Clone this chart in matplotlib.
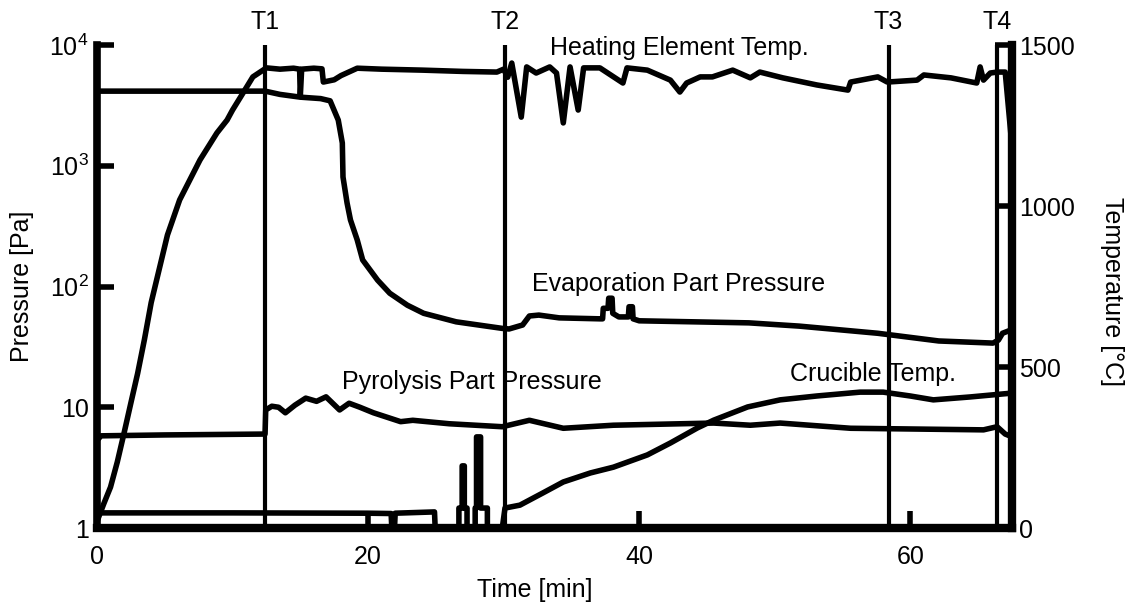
import matplotlib
matplotlib.use("Agg")
import matplotlib.pyplot as plt
import matplotlib.transforms as mtransforms
from matplotlib.ticker import NullLocator

plt.rcParams['font.family'] = ['Liberation Sans', 'DejaVu Sans']
plt.rcParams['mathtext.fontset'] = 'custom'
plt.rcParams['mathtext.rm'] = 'Liberation Sans'
plt.rcParams['font.size'] = 18

# Heating element temperature [degC] vs time [min]
heat_t = [0, 0.5, 1.0, 1.5, 2.0, 2.5, 3.0, 3.5, 4.0, 5.2, 6.1, 7.6, 8.85, 9.6, 10.0,
          10.6, 11.5, 12.5, 13.5, 14.5, 14.95, 15.0, 15.1, 16.0, 16.6, 16.7, 17.5,
          18.0, 19.2, 21.0, 24.0, 27.0, 29.5, 30.0, 30.3, 30.6, 31.3, 31.7, 32.4,
          33.4, 33.9, 34.4, 34.9, 35.5, 35.9, 37.1, 38.8, 39.1, 40.6, 42.3, 43.0,
          43.5, 44.5, 45.4, 46.9, 48.2, 48.9, 50.6, 53.1, 55.4, 55.6, 57.6, 58.3,
          60.5, 61.0, 63.0, 64.9, 65.15, 65.4, 65.9, 66.4, 67.0, 67.5]
heat_T = [20, 75, 127, 205, 295, 388, 480, 585, 700, 910, 1019, 1143, 1227, 1267, 1298,
          1339, 1401, 1429, 1425, 1428, 1425, 1340, 1425, 1428, 1426, 1385, 1392,
          1405, 1428, 1425, 1422, 1418, 1416, 1425, 1400, 1444, 1276, 1432, 1413,
          1432, 1413, 1258, 1432, 1298, 1429, 1429, 1382, 1429, 1422, 1391, 1354,
          1382, 1401, 1401, 1422, 1398, 1416, 1398, 1376, 1360, 1385, 1401, 1385,
          1391, 1407, 1398, 1382, 1432, 1391, 1413, 1416, 1416, 1185]

# Crucible temperature [degC]
cru_t = [0, 0.3, 10.0, 20.0, 21.7, 21.75, 21.95, 22.0, 24.9, 24.95, 26.7, 26.7, 26.94,
         26.94, 27.1, 27.1, 27.3, 27.3, 27.9, 27.9, 28.0, 28.0, 28.3, 28.3, 28.8, 28.8,
         29.9, 30.1, 31.2, 32.9, 34.4, 36.4, 38.1, 40.6, 42.3, 44.3, 45.5, 48.0,
         50.4, 53.1, 56.3, 58.0, 60.0, 61.7, 64.4, 67.5]
cru_T = [40, 47, 47, 46, 45, 0, 0, 46, 50, 0, 0, 62, 62,
         193, 193, 62, 62, 0, 0, 62, 62, 283, 283, 62, 62, 0,
         0, 62, 71, 109, 143, 171, 189, 227, 264, 311, 335, 376,
         398, 410, 422, 422, 410, 398, 407, 419]

# Evaporation part pressure [Pa]
evap_t = [0, 12.4, 13.5, 15.0, 16.5, 17.2, 17.8, 18.1, 18.15, 18.45, 18.7, 19.2,
          19.6, 20.7, 21.6, 22.9, 24.1, 26.5, 29.9, 30.4, 31.4, 31.9, 32.6, 34.1,
          37.1, 37.3, 37.35, 37.7, 37.75, 38.0, 38.05, 38.5, 39.2, 39.25, 39.5,
          39.55, 40.0, 48.1, 51.8, 57.6, 62.1, 66.1, 66.5, 66.8, 67.5]
evap_P = [4150, 4150, 3900, 3700, 3600, 3450, 2390, 1543, 807, 492, 356, 243,
          166, 113, 88, 70, 60, 51, 45, 44.5, 48, 57, 58, 55,
          54, 54, 66, 66, 80, 80, 60, 56, 56, 68, 68,
          54, 52, 50, 47, 41, 35.4, 34, 36, 41, 44]

# Pyrolysis part pressure [Pa]
pyro_t = [0, 0.3, 5.0, 12.4, 12.45, 12.9, 13.4, 13.9, 14.6, 15.4, 16.2, 16.9, 17.9,
          18.6, 19.4, 20.4, 22.4, 23.3, 26.0, 29.9, 31.9, 34.4, 38.1, 45.5, 48.2,
          50.4, 55.6, 65.4, 66.4, 67.0, 67.5]
pyro_P = [5.3, 5.8, 5.9, 6.0, 9.5, 10.2, 10.0, 9.0, 10.4, 11.9, 11.2, 12.2, 9.5,
          10.8, 10.0, 9.0, 7.6, 7.8, 7.3, 6.9, 7.8, 6.7, 7.1, 7.4, 7.1,
          7.4, 6.7, 6.5, 6.9, 6.0, 5.7]

event_times = [12.4, 30.1, 58.4, 66.4]
event_names = ['T1', 'T2', 'T3', 'T4']

fig = plt.figure(figsize=(11.34, 6.10), dpi=100)
ax1 = fig.add_axes([0.0855, 0.1344, 0.8069, 0.7918])
ax2 = ax1.twinx()

lw = 4
ax1.plot(evap_t, evap_P, color='k', lw=lw)
ax1.plot(pyro_t, pyro_P, color='k', lw=lw)
ax2.plot(heat_t, heat_T, color='k', lw=lw)
ax2.plot(cru_t, cru_T, color='k', lw=lw)

ax1.set_yscale('log')
ax1.set_xlim(0, 67.5)
ax1.set_ylim(1, 1e4)
ax2.set_ylim(0, 1500)

for t in event_times:
    ax1.axvline(t, color='k', lw=3)
trans = mtransforms.blended_transform_factory(ax1.transData, ax1.transAxes)
for t, name in zip(event_times, event_names):
    ax1.text(t, 1.047, name, transform=trans, ha='center', va='center')

ax1.set_xticks([0, 20, 40, 60])
ax1.set_yticks([1, 10, 100, 1000, 10000])
ax1.set_yticklabels(['1', '10', r'$\mathregular{10^2}$', r'$\mathregular{10^3}$',
                     r'$\mathregular{10^4}$'])
ax1.yaxis.set_minor_locator(NullLocator())
ax2.set_yticks([0, 500, 1000, 1500])

ax1.tick_params(axis='x', direction='in', length=12, width=4, pad=12)
ax1.tick_params(axis='y', direction='in', length=12, width=4, pad=6)
ax2.tick_params(axis='y', direction='in', length=12, width=4, pad=5)

for s in ['top', 'right']:
    ax1.spines[s].set_visible(False)
for s in ['top', 'left', 'bottom']:
    ax2.spines[s].set_visible(False)
ax1.spines['left'].set_linewidth(5.5)
ax1.spines['bottom'].set_linewidth(6)
ax2.spines['right'].set_linewidth(6)

ax1.set_xlabel('Time [min]')
ax1.set_ylabel('Pressure [Pa]')
ax2.set_ylabel('Temperature [°C]', rotation=270)
ax1.xaxis.set_label_coords(0.478, -0.104)
ax1.yaxis.set_label_coords(-0.069, 0.5)
ax2.yaxis.set_label_coords(1.122, 0.49)

ax2.text(33.4, 1490, 'Heating Element Temp.', ha='left', va='center')
ax1.text(32.1, 105, 'Evaporation Part Pressure', ha='left', va='center')
ax1.text(18.1, 16.2, 'Pyrolysis Part Pressure', ha='left', va='center')
ax2.text(51.1, 478, 'Crucible Temp.', ha='left', va='center')

fig.savefig('out.png', dpi=100)
